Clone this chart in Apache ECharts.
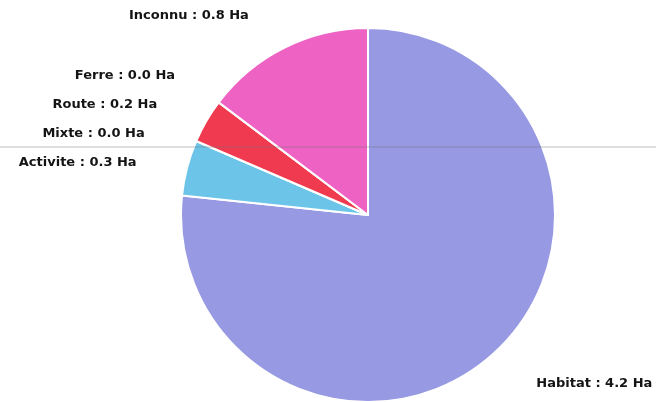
<!DOCTYPE html>
<html>
<head>
<meta charset="utf-8">
<script src="https://cdn.jsdelivr.net/npm/echarts@6/dist/echarts.min.js"></script>
<style>
html,body{margin:0;padding:0;background:#fff;}
#chart{width:656px;height:402px;}
</style>
</head>
<body>
<div id="chart"></div>
<script>
const categories = ['Habitat', 'Activite', 'Mixte', 'Route', 'Ferre', 'Inconnu'];
const areas = [4.22, 0.265, 0.0, 0.21, 0.0, 0.81];
const sliceColors = ['#9799e2', '#6cc5e8', '#a0a0a0', '#f03a50', '#888888', '#ee62c4'];
// per-label vertical nudge (style only)
const labelNudgeY = [5, -7, -7, -7, -7, -2];

const chart = echarts.init(document.getElementById('chart'), null, {renderer: 'canvas'});
const data = categories.map((c, i) => ({
  name: c,
  value: areas[i],
  itemStyle: {color: sliceColors[i]}
}));

chart.setOption({
  animation: false,
  backgroundColor: '#ffffff',
  series: [{
    type: 'pie',
    center: [368, 215],
    radius: [0, 187],
    startAngle: 90,
    clockwise: true,
    avoidLabelOverlap: true,
    minShowLabelAngle: 0,
    data: data,
    itemStyle: {borderColor: '#ffffff', borderWidth: 2},
    label: {
      show: true,
      position: 'outside',
      formatter: p => p.name + ' : ' + p.value.toFixed(1) + ' Ha',
      fontFamily: 'DejaVu Sans',
      fontWeight: 'bold',
      fontSize: 13,
      lineHeight: 27,
      color: '#141414',
      overflow: 'none',
      distanceToLabelLine: 5
    },
    labelLine: {show: false, length: 33, length2: 16},
    labelLayout: p => ({dy: labelNudgeY[p.dataIndex]}),
    emphasis: {disabled: true}
  }],
  graphic: [{
    type: 'line',
    z: 100,
    shape: {x1: 0, y1: 147, x2: 656, y2: 147},
    style: {stroke: 'rgba(110,110,110,0.45)', lineWidth: 1}
  }]
});
</script>
</body>
</html>
